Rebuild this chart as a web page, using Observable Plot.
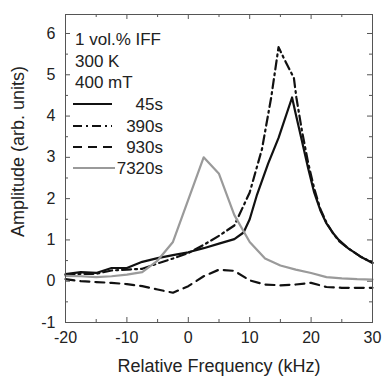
<!DOCTYPE html>
<html><head><meta charset="utf-8">
<script src="https://cdn.jsdelivr.net/npm/d3@7"></script>
<script src="https://cdn.jsdelivr.net/npm/@observablehq/plot@0.6"></script>
<style>body{margin:0;background:#fff;} svg{display:block;}</style>
</head><body><div id="chart"></div>
<script>
const xTicks = [-20, -10, 0, 10, 20, 30];
const xMinor = [-15, -5, 5, 15, 25];
const yTicks = [-1, 0, 1, 2, 3, 4, 5, 6];
const yMinor = [-0.5, 0.5, 1.5, 2.5, 3.5, 4.5, 5.5];
const seriesNames = ["45s", "390s", "930s", "7320s"];
const headerLines = ["1 vol.% IFF", "300 K", "400 mT"];

const f45 = [-20,-17.5,-15,-12.5,-10,-7.5,-5,-2.5,0,2.5,5,7.5,9,10,11.2,13,14.7,16.9,17.5,18.5,19.5,20.5,21.5,22.5,23.5,24.5,26,28,30];
const a45 = [0.17,0.22,0.2,0.32,0.32,0.47,0.56,0.63,0.7,0.8,0.91,1.02,1.18,1.5,2.1,2.85,3.47,4.45,4.05,3.4,2.75,2.15,1.72,1.4,1.18,1.0,0.8,0.6,0.44];

const f390 = [-20,-17.5,-15,-12.5,-10,-7.5,-5,-2.5,0,2.5,5,7.5,10,12,13.5,14.7,15.5,17.2,17.6,18.5,19.5,20.5,21.5,22.5,23.5,24.5,26,28,30];
const a390 = [0.15,0.18,0.18,0.26,0.28,0.3,0.43,0.55,0.68,0.88,1.1,1.35,2.15,3.2,4.45,5.67,5.42,4.92,4.45,3.65,2.88,2.25,1.75,1.42,1.18,0.98,0.8,0.6,0.45];

const f930 = [-20,-17.5,-15,-12.5,-10,-7.5,-5,-2.5,0,2.5,5,7.5,10,12.5,15,17.5,20,22.5,25,27.5,30];
const a930 = [0.05,0.0,-0.02,-0.04,-0.07,-0.12,-0.2,-0.28,-0.12,0.12,0.28,0.25,0.02,-0.08,-0.1,-0.08,-0.04,-0.14,-0.16,-0.16,-0.16];

const f7320 = [-20,-17.5,-15,-12.5,-10,-7.5,-5,-2.5,2.5,5,7.5,10,12.5,15,17.5,20,22.5,25,27.5,30];
const a7320 = [0.13,0.12,0.1,0.12,0.16,0.22,0.5,0.95,3.0,2.6,1.6,0.95,0.55,0.38,0.28,0.2,0.1,0.07,0.05,0.04];

const styles = {
  "45s":   {stroke: "#111", dash: null},
  "390s":  {stroke: "#111", dash: "9,4,2,4"},
  "930s":  {stroke: "#111", dash: "9,6"},
  "7320s": {stroke: "#9a9a9a", dash: null}
};

const seriesData = {
  "45s": f45.map((f, i) => ({f, a: a45[i]})),
  "390s": f390.map((f, i) => ({f, a: a390[i]})),
  "930s": f930.map((f, i) => ({f, a: a930[i]})),
  "7320s": f7320.map((f, i) => ({f, a: a7320[i]}))
};

const W = 383, H = 377, mL = 65, mR = 11, mT = 14, mB = 55;
const fh = H - mT - mB, fw = W - mL - mR;
const frameColor = "#555";
const major = 5, minor = 3;
const fmt = d => String(d);

const lineMarks = seriesNames.map(n => Plot.line(seriesData[n], {
  x: "f", y: "a", stroke: styles[n].stroke, strokeWidth: 2.2,
  strokeDasharray: styles[n].dash, strokeLinejoin: "round"
}));

const chart = Plot.plot({
  width: W, height: H,
  marginLeft: mL, marginRight: mR, marginTop: mT, marginBottom: mB,
  style: {fontFamily: "'Liberation Sans', Arial, sans-serif", fontSize: "16px", color: "#222", background: "#fff"},
  x: {domain: [-20, 30]},
  y: {domain: [-1, 6.46]},
  marks: [
    Plot.axisX({ticks: xTicks, tickFormat: fmt, tickSize: 0, tickPadding: 9, label: null}),
    Plot.axisY({ticks: yTicks, tickFormat: fmt, tickSize: 0, tickPadding: 10, label: null}),
    Plot.tickX(xTicks, {x: d => d, stroke: frameColor, insetTop: fh - major}),
    Plot.tickX(xMinor, {x: d => d, stroke: frameColor, insetTop: fh - minor}),
    Plot.tickX(xTicks, {x: d => d, stroke: frameColor, insetBottom: fh - major}),
    Plot.tickX(xMinor, {x: d => d, stroke: frameColor, insetBottom: fh - minor}),
    Plot.tickY(yTicks, {y: d => d, stroke: frameColor, insetRight: fw - major}),
    Plot.tickY(yMinor, {y: d => d, stroke: frameColor, insetRight: fw - minor}),
    Plot.tickY(yTicks, {y: d => d, stroke: frameColor, insetLeft: fw - major}),
    Plot.tickY(yMinor, {y: d => d, stroke: frameColor, insetLeft: fw - minor}),
    ...lineMarks,
    Plot.frame({stroke: frameColor}),
    Plot.text(["Relative Frequency (kHz)"], {frameAnchor: "bottom", lineAnchor: "middle", dy: 44, fontSize: 18, fill: "#222"}),
    Plot.text(["Amplitude (arb. units)"], {frameAnchor: "top-left", lineAnchor: "middle", textAnchor: "middle", rotate: -90, dx: 18 - mL, dy: 151 - mT, fontSize: 18, fill: "#222"})
  ]
});

document.getElementById("chart").appendChild(chart);

// legend: header text + line samples
const svg = d3.select(chart);
const g = svg.append("g")
  .attr("font-family", "'Liberation Sans', Arial, sans-serif")
  .attr("font-size", 17).attr("fill", "#222").attr("text-anchor", "start");
const headerBase = [45, 67, 88];
headerLines.forEach((t, i) => {
  g.append("text").attr("x", 75).attr("y", headerBase[i]).attr("text-anchor", "start").text(t);
});
const legY = [104, 126, 147, 168];
seriesNames.forEach((n, i) => {
  g.append("line").attr("x1", 73).attr("x2", n === "7320s" ? 115 : 112)
    .attr("y1", legY[i]).attr("y2", legY[i])
    .attr("stroke", styles[n].stroke).attr("stroke-width", 2.2)
    .attr("stroke-dasharray", styles[n].dash);
  g.append("text").attr("x", 163).attr("y", legY[i] + 6).attr("text-anchor", "end").text(n);
});
</script>
</body></html>
